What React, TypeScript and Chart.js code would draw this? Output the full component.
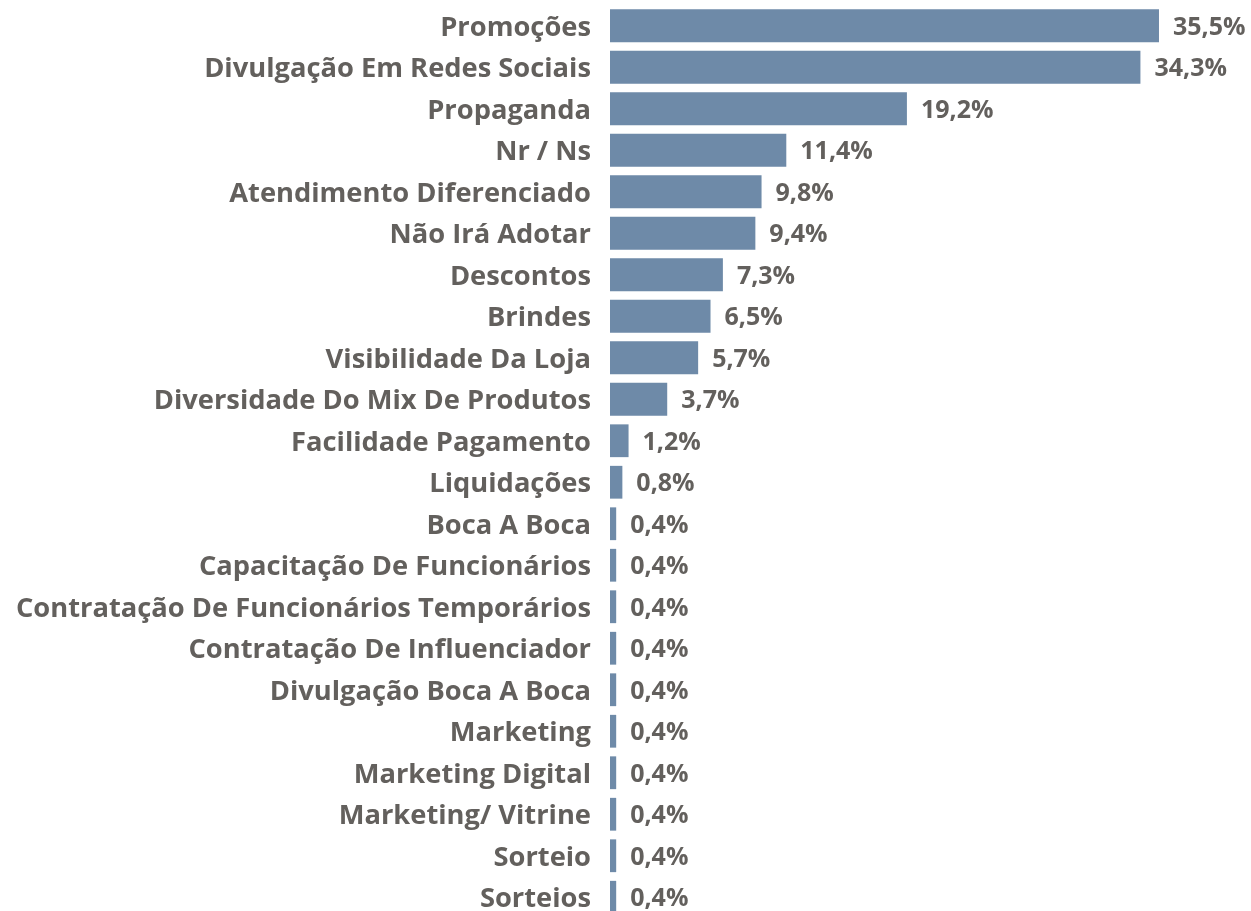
import React, { useEffect, useRef } from "react";
import { Chart, registerables } from "chart.js";

Chart.register(...registerables);

const categories = [
  "Promoções",
  "Divulgação Em Redes Sociais",
  "Propaganda",
  "Nr / Ns",
  "Atendimento Diferenciado",
  "Não Irá Adotar",
  "Descontos",
  "Brindes",
  "Visibilidade Da Loja",
  "Diversidade Do Mix De Produtos",
  "Facilidade Pagamento",
  "Liquidações",
  "Boca A Boca",
  "Capacitação De Funcionários",
  "Contratação De Funcionários Temporários",
  "Contratação De Influenciador",
  "Divulgação Boca A Boca",
  "Marketing",
  "Marketing Digital",
  "Marketing/ Vitrine",
  "Sorteio",
  "Sorteios",
];

const values = [35.5, 34.3, 19.2, 11.4, 9.8, 9.4, 7.3, 6.5, 5.7, 3.7, 1.2, 0.8, 0.4, 0.4, 0.4, 0.4, 0.4, 0.4, 0.4, 0.4, 0.4, 0.4];

const FONT_FAMILY = "'Open Sans', 'Noto Sans', sans-serif";
const TEXT_COLOR = "#63605d";
const BAR_COLOR = "#6e8aa8";

const valueLabels = {
  id: "valueLabels",
  afterDatasetsDraw(chart: any) {
    const ctx = chart.ctx;
    const meta = chart.getDatasetMeta(0);
    ctx.save();
    ctx.font = `bold 25px ${FONT_FAMILY}`;
    ctx.fillStyle = TEXT_COLOR;
    ctx.textAlign = "left";
    ctx.textBaseline = "middle";
    meta.data.forEach((bar: any, i: number) => {
      const txt = values[i].toFixed(1).replace(".", ",") + "%";
      ctx.fillText(txt, bar.x + 14, bar.y + 2);
    });
    ctx.restore();
  },
};

export default function App() {
  const ref = useRef<HTMLCanvasElement>(null);
  useEffect(() => {
    if (!ref.current) return;
    const chart = new Chart(ref.current, {
      type: "bar",
      data: {
        labels: categories,
        datasets: [
          {
            data: values,
            backgroundColor: BAR_COLOR,
            categoryPercentage: 1,
            barPercentage: 0.79,
          },
        ],
      },
      options: {
        indexAxis: "y",
        animation: false,
        responsive: false,
        maintainAspectRatio: false,
        layout: { padding: { top: 5, bottom: 0, left: 0, right: 0 } },
        plugins: { legend: { display: false }, tooltip: { enabled: false } },
        scales: {
          x: { display: false, min: 0, max: 41.45 },
          y: {
            grid: { display: false, drawTicks: false },
            border: { display: false },
            afterFit(scale: any) {
              scale.width = 610;
              scale.paddingTop = 0;
              scale.paddingBottom = 0;
            },
            ticks: {
              padding: 19,
              labelOffset: 2,
              color: TEXT_COLOR,
              font: { family: FONT_FAMILY, size: 27.3, weight: "bold" },
              autoSkip: false,
            },
          },
        },
      },
      plugins: [valueLabels],
    });
    return () => chart.destroy();
  }, []);
  return (
    <div style={{ position: "fixed", left: 0, top: 0, width: 1251, height: 911, overflow: "hidden", background: "#fff" }}>
      <canvas ref={ref} width={1251} height={918} style={{ position: "absolute", left: 0, top: 0, width: 1251, height: 918 }} />
    </div>
  );
}
